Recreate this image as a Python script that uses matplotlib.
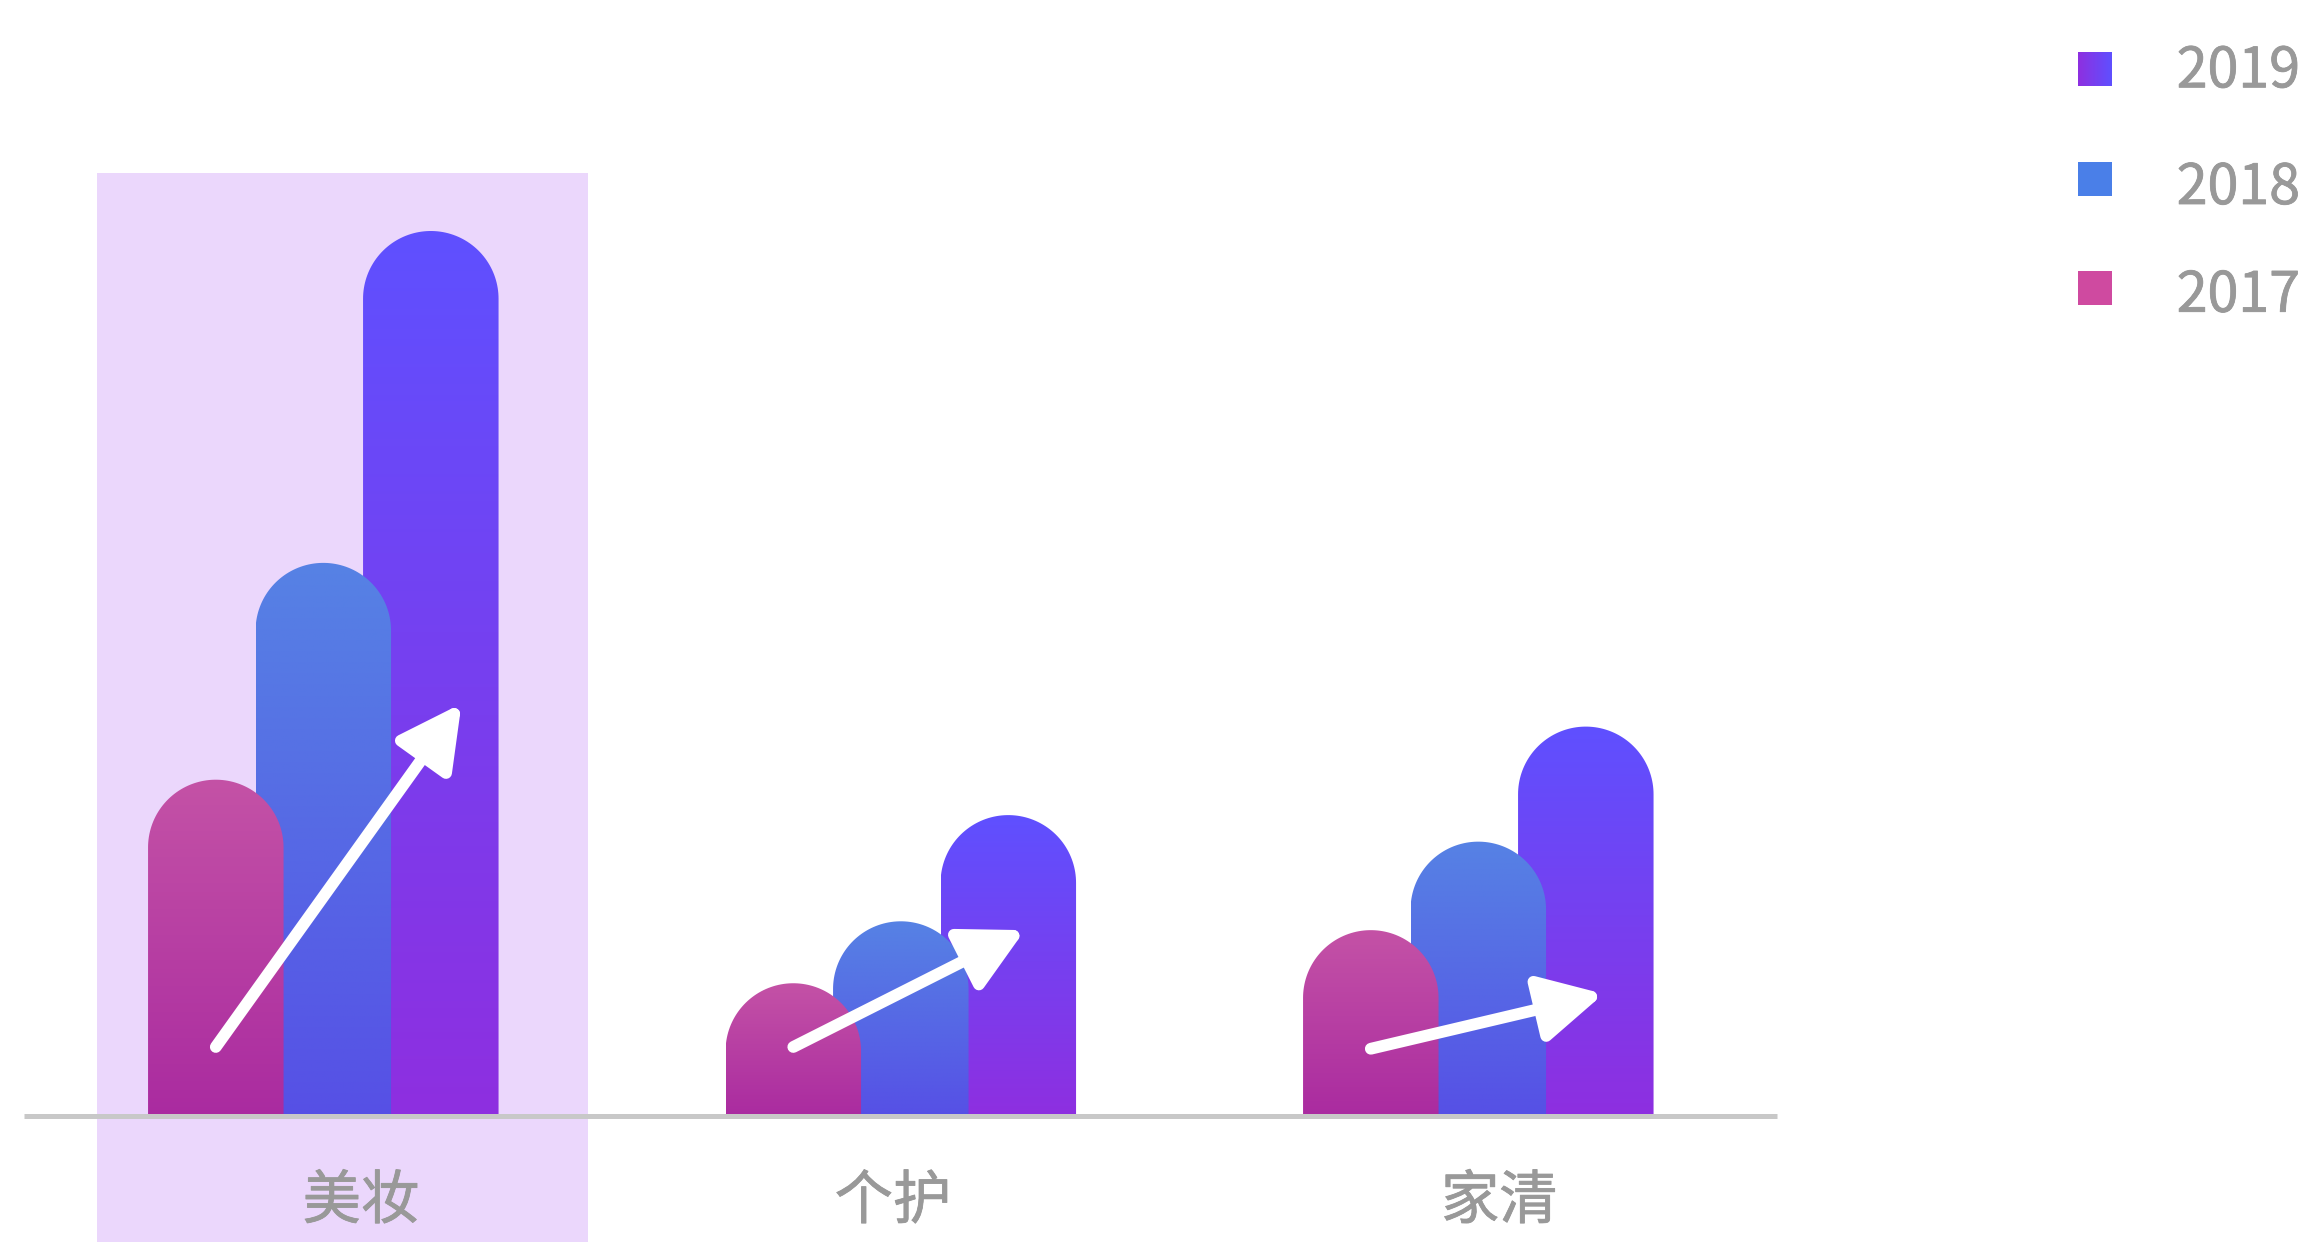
import matplotlib
matplotlib.use('Agg')
import matplotlib.pyplot as plt
import matplotlib.patheffects as pe
import numpy as np
from matplotlib.path import Path
from matplotlib.patches import PathPatch, Rectangle, FancyArrowPatch
from matplotlib.colors import LinearSegmentedColormap

plt.rcParams['font.family'] = ['Noto Sans CJK SC', 'DejaVu Sans']

## 数据
categories = ['美妆', '个护', '家清']
years = ['2017', '2018', '2019']
v2017 = [38, 15, 21]
v2018 = [62.5, 22, 31]
v2019 = [100, 34, 44]
# 箭头起点/终点高度 (与数据同单位)
arrow_start = [7.8, 7.8, 7.6]
arrow_end = [47, 21.4, 14.2]

## 颜色 (上, 下)
grad = {
    '2017': ('#c452a6', '#aa2ba0'),
    '2018': ('#5682e4', '#5650e6'),
    '2019': ('#5f50ff', '#8e2fe0'),
}
legend_colors = {'2017': '#cf4aa0', '2018': '#4a7fe8'}
grey = '#999999'
thick = [pe.withStroke(linewidth=0.6, foreground=grey)]  # 字体稍微加粗

## 画布: 2306 x 1242 像素
W, H = 2306, 1242
fig = plt.figure(figsize=(W / 100, H / 100), dpi=100)
ax = fig.add_axes([0, 0, 1, 1])
ax.axis('off')

px_x = 577.5   # 每个分类间隔的像素
px_y = 8.85    # 每个数值单位的像素
x0_px = 323.3  # 第一组中心
base_px = 1116  # 基线 (从上往下)

bar_w = 135.5 / px_x
step = 107.5 / px_x
x = np.arange(len(categories))

# 高亮背景 (第一组)
ax.add_patch(Rectangle((-0.392, -20), 0.85, 20 + 106.6, facecolor='#ebd7fc',
                       edgecolor='none', zorder=0))


def round_bar(cx, val, top_c, bot_c, z):
    r_y = (bar_w * px_x / 2) / px_y
    left, right = cx - bar_w / 2, cx + bar_w / 2
    h = max(val - r_y, 0)
    t = np.linspace(np.pi, 0, 80)
    xs = cx + bar_w / 2 * np.cos(t)
    ys = h + r_y * np.sin(t)
    verts = [(left, 0)] + list(zip(xs, ys)) + [(right, 0), (left, 0)]
    patch = PathPatch(Path(verts), facecolor='none', edgecolor='none', zorder=z)
    ax.add_patch(patch)
    cmap = LinearSegmentedColormap.from_list('g', [bot_c, top_c])
    g = np.linspace(0, 1, 256).reshape(-1, 1)
    im = ax.imshow(g, extent=[left, right, 0, val], origin='lower', aspect='auto',
                   cmap=cmap, zorder=z, interpolation='bilinear')
    im.set_clip_path(patch)


for i in range(len(categories)):
    round_bar(x[i] + step, v2019[i], *grad['2019'], z=1)
    round_bar(x[i], v2018[i], *grad['2018'], z=2)
    round_bar(x[i] - step, v2017[i], *grad['2017'], z=3)

ax.set_xlim(-x0_px / px_x, (W - x0_px) / px_x)
ax.set_ylim(-(H - base_px) / px_y, base_px / px_y)

# 基线
ax.plot([-0.519, 2.517], [0, 0], color='#c8c8c8', lw=3.6, zorder=5, solid_capstyle='butt')

# 箭头
tip_dx = [141.7, 127.5, 128.7]
for i in range(len(categories)):
    arr = FancyArrowPatch((x[i] - step, arrow_start[i]),
                          (x[i] + tip_dx[i] / px_x - 0.006, arrow_end[i] - 0.4),
                          arrowstyle='-|>,head_length=3.8,head_width=2.0',
                          mutation_scale=10, color='white', lw=8.5,
                          shrinkA=0, shrinkB=0, zorder=6)
    arr.set_capstyle('round')
    arr.set_joinstyle('round')
    ax.add_patch(arr)

# 分类标签
label_dx = [37.7, -7.8, 21]
for i, c in enumerate(categories):
    ax.text(x[i] + label_dx[i] / px_x, -86 / px_y, c, fontsize=42, color=grey,
            ha='center', va='center', zorder=7, path_effects=thick)

# 图例
sq = 34
rows = [('2019', 69, 87.3), ('2018', 179, 204), ('2017', 288, 311.7)]
for yr, cy, base in rows:
    lax = fig.add_axes([2077.7 / W, 1 - (cy + sq / 2) / H, sq / W, sq / H])
    lax.axis('off')
    if yr == '2019':
        cm = LinearSegmentedColormap.from_list('l', [grad['2019'][1], grad['2019'][0]])
        lax.imshow(np.linspace(0, 1, 64).reshape(1, -1), cmap=cm, aspect='auto')
    else:
        lax.add_patch(Rectangle((0, 0), 1, 1, facecolor=legend_colors[yr], edgecolor='none'))
        lax.set_xlim(0, 1)
        lax.set_ylim(0, 1)
    fig.text(2176.7 / W, 1 - base / H, yr, fontsize=40,
             color=grey, ha='left', va='baseline', path_effects=thick)

fig.savefig('out.png', dpi=100)
